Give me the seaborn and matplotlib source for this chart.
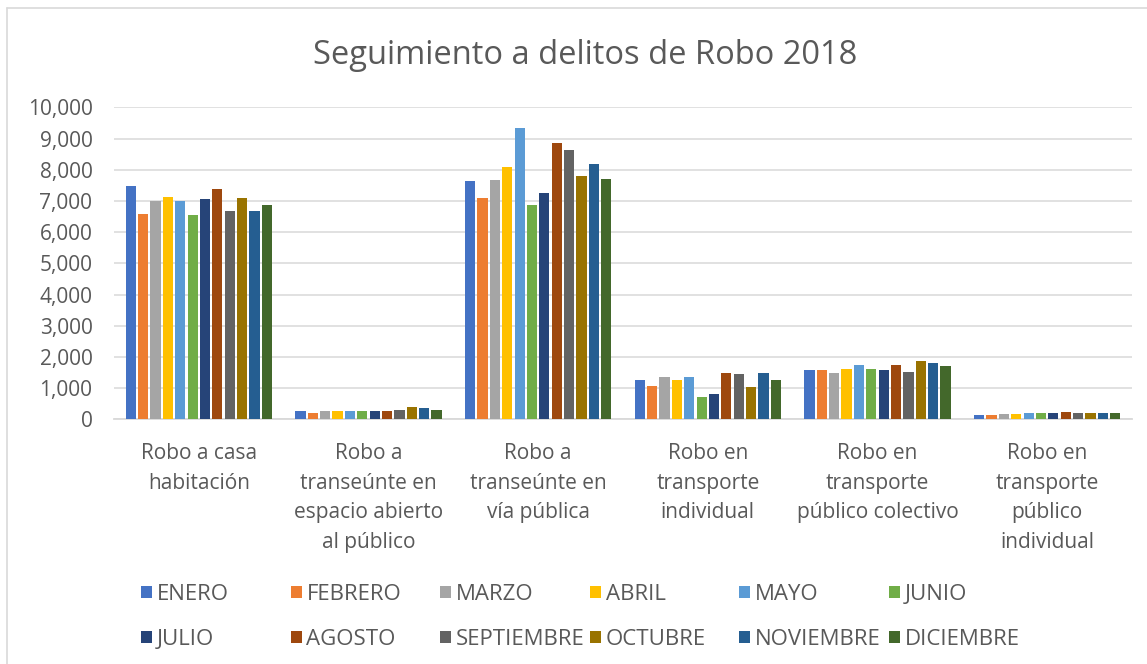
import matplotlib
matplotlib.use("Agg")
import matplotlib.pyplot as plt
from matplotlib.patches import Patch
from matplotlib.lines import Line2D
from matplotlib.ticker import FuncFormatter, MultipleLocator
import seaborn as sns
import pandas as pd

categories = [
    "Robo a casa\nhabitación",
    "Robo a\ntranseúnte en\nespacio abierto\nal público",
    "Robo a\ntranseúnte en\nvía pública",
    "Robo en\ntransporte\nindividual",
    "Robo en\ntransporte\npúblico colectivo",
    "Robo en\ntransporte\npúblico\nindividual",
]
months = ["ENERO", "FEBRERO", "MARZO", "ABRIL", "MAYO", "JUNIO",
          "JULIO", "AGOSTO", "SEPTIEMBRE", "OCTUBRE", "NOVIEMBRE", "DICIEMBRE"]
colors = ["#4472C4", "#ED7D31", "#A5A5A5", "#FFC000", "#5B9BD5", "#70AD47",
          "#264478", "#9E480E", "#636363", "#997300", "#255E91", "#43682B"]

casa_habitacion = [7480, 6580, 7010, 7120, 7000, 6540, 7070, 7370, 6690, 7090, 6680, 6880]
espacio_abierto = [270, 200, 250, 250, 250, 250, 280, 280, 300, 390, 360, 300]
via_publica = [7640, 7080, 7660, 8080, 9350, 6880, 7240, 8850, 8630, 7790, 8170, 7710]
transporte_individual = [1245, 1080, 1340, 1275, 1340, 700, 825, 1480, 1447, 1050, 1480, 1254]
publico_colectivo = [1586, 1586, 1490, 1608, 1736, 1608, 1575, 1736, 1500, 1865, 1800, 1700]
publico_individual = [150, 150, 170, 180, 190, 200, 210, 220, 190, 200, 200, 190]

series = [casa_habitacion, espacio_abierto, via_publica,
          transporte_individual, publico_colectivo, publico_individual]

rows = []
for cat, vals in zip(categories, series):
    for m, v in zip(months, vals):
        rows.append({"cat": cat, "mes": m, "val": v})
df = pd.DataFrame(rows)

sns.set_theme(style="white")
plt.rcParams["font.family"] = ["Open Sans", "DejaVu Sans"]
TXT = "#595959"
GRID = "#D9D9D9"

W, H = 1147, 664
fig = plt.figure(figsize=(W / 100, H / 100), dpi=100)
ax = fig.add_axes([114 / W, 1 - 419.3 / H, (1132 - 114) / W, (419.3 - 107.3) / H])

sns.barplot(data=df, x="cat", y="val", hue="mes", order=categories,
            hue_order=months, palette=dict(zip(months, colors)), saturation=1,
            width=0.875, gap=0.18, edgecolor="none", legend=False, ax=ax,
            errorbar=None, zorder=3)

ax.set_ylim(0, 10000)
ax.set_xlim(-0.5, len(categories) - 0.5)
ax.yaxis.set_major_locator(MultipleLocator(1000))
ax.yaxis.set_major_formatter(FuncFormatter(lambda v, p: f"{int(v):,}"))
ax.grid(axis="y", color=GRID, linewidth=1.1, zorder=0)
ax.set_axisbelow(True)
for s in ["top", "right", "left"]:
    ax.spines[s].set_visible(False)
ax.spines["bottom"].set_color(GRID)
ax.spines["bottom"].set_linewidth(1.3)
ax.set_xlabel("")
ax.set_ylabel("")
ax.tick_params(axis="y", length=0, pad=15.5, labelsize=15, labelcolor=TXT)
ax.tick_params(axis="x", length=0, pad=17, labelsize=15, labelcolor=TXT)
for t in ax.get_xticklabels():
    t.set_linespacing(1.54)
    t.set_horizontalalignment("center")

fig.text(585 / W, 1 - 55 / H, "Seguimiento a delitos de Robo 2018",
         ha="center", va="center", fontsize=23.5, color=TXT)

# legend: two rows of six equally spaced entries
for i, (m, c) in enumerate(zip(months, colors)):
    col, row = i % 6, i // 6
    x = (141 + 149.5 * col) / W
    y = 1 - (594.5 + 45 * row) / H
    leg = fig.legend(handles=[Patch(facecolor=c, edgecolor="none")], labels=[m],
                     loc="center left", bbox_to_anchor=(x, y), frameon=False,
                     fontsize=16, handlelength=0.5, handleheight=0.5,
                     handletextpad=0.22, borderpad=0, borderaxespad=0)
    for t in leg.get_texts():
        t.set_color(TXT)

# chart border
fig.add_artist(Line2D([7.5 / W, 7.5 / W], [0, 1 - 8 / H], color=GRID, linewidth=1.2,
                      transform=fig.transFigure))
fig.add_artist(Line2D([7.5 / W, 1], [1 - 8 / H, 1 - 8 / H], color=GRID, linewidth=1.2,
                      transform=fig.transFigure))

fig.savefig("out.png", dpi=100)
